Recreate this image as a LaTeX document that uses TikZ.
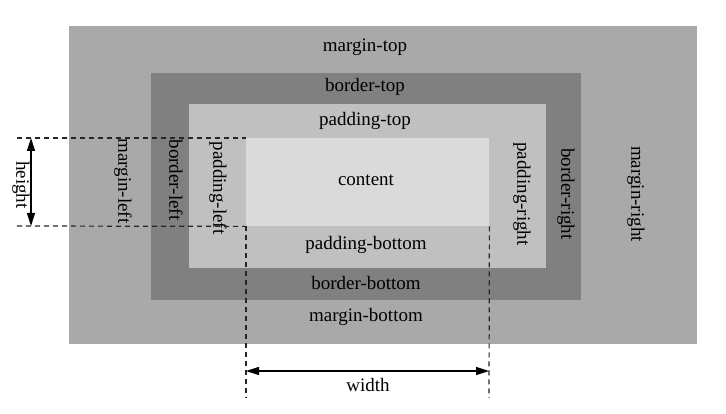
\documentclass[tikz,border=0pt]{standalone}
\usepackage{fontspec}
\setmainfont{Liberation Serif}
\usetikzlibrary{arrows.meta}
\definecolor{marginc}{RGB}{169,169,169}
\definecolor{borderc}{RGB}{128,128,128}
\definecolor{paddingc}{RGB}{192,192,192}
\definecolor{contentc}{RGB}{218,218,218}
\tikzset{
  lbl/.style={font=\fontsize{19}{22}\selectfont, text=black, inner sep=0pt},
  vlbl/.style={lbl, rotate=-90},
  box/.style={draw=none, inner sep=0pt, anchor=north west},
  dim/.style={draw=black!85, line width=1.2pt, dash pattern=on 5pt off 4pt},
  dimarrow/.style={draw=black, line width=1.2pt, {Triangle[length=13pt,width=8pt]}-{Triangle[length=13pt,width=8pt]}}
}
\begin{document}
\begin{tikzpicture}[x=1pt,y=-1pt]
\useasboundingbox (0,0) rectangle (726,414);
\fill[white] (0,0) rectangle (726,414);
% boxes
\node[box, fill=marginc, minimum width=628pt, minimum height=318pt] (margin) at (69,26) {};
\node[box, fill=borderc, minimum width=430pt, minimum height=227pt] (border) at (151,73) {};
\node[box, fill=paddingc, minimum width=357pt, minimum height=164pt] (padding) at (189,104) {};
\node[box, fill=contentc, minimum width=243pt, minimum height=88pt] (content) at (246,138) {};
% horizontal labels
\node[lbl] (mt) at (365,47) {margin-top};
\node[lbl] (bt) at (365,87) {border-top};
\node[lbl] (pt) at (365,121) {padding-top};
\node[lbl] (ct) at (366,180) {content};
\node[lbl] (pb) at (366,245) {padding-bottom};
\node[lbl] (bb) at (366,283) {border-bottom};
\node[lbl] (mb) at (366,317) {margin-bottom};
% vertical labels
\node[vlbl] (ml) at (123,181) {margin-left};
\node[vlbl] (bl) at (176,180) {border-left};
\node[vlbl] (pl) at (218,188) {padding-left};
\node[vlbl] (pr) at (522,194) {padding-right};
\node[vlbl] (br) at (566,194) {border-right};
\node[vlbl] (mr) at (636,194) {margin-right};
% dimension helper coordinates
\coordinate (htop) at (17,138);
\coordinate (hbot) at (17,226);
\coordinate (ha1) at (31,138);
\coordinate (ha2) at (31,226);
\coordinate (wl) at (246,398);
\coordinate (wr) at (489,398);
\coordinate (wa1) at (246,371);
\coordinate (wa2) at (489,371);
% dashed extension lines
\draw[dim] (htop) -- (content.north west);
\draw[dim] (hbot) -- (content.south west);
\draw[dim] (content.south west) -- (wl);
\draw[dim] (content.south east) -- (wr);
% arrows
\draw[dimarrow] (ha1) -- (ha2);
\draw[dimarrow] (wa1) -- (wa2);
\node[vlbl] (hl) at (21,185) {height};
\node[lbl] (wlbl) at (368,385) {width};
\end{tikzpicture}
\end{document}
